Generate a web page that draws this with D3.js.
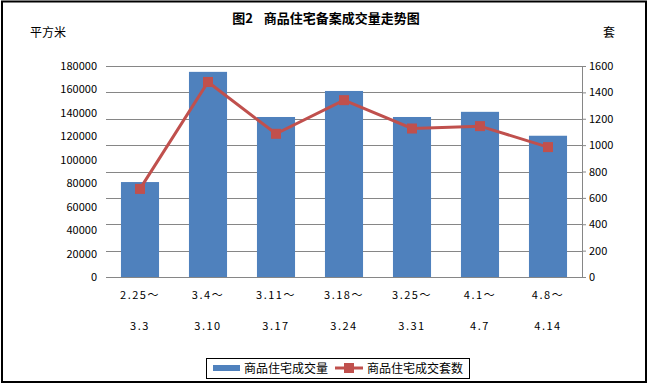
<!DOCTYPE html>
<html>
<head>
<meta charset="utf-8">
<script src="https://cdn.jsdelivr.net/npm/d3@7"></script>
<style>
  body { margin: 0; background: #fff; }
  svg text { font-family: "Noto Sans CJK SC", "DejaVu Sans", sans-serif; }
</style>
</head>
<body>
<div id="vis"></div>
<script>
const FRAME_WIDTH = 650;
const FRAME_HEIGHT = 386;
const MARGINS = {left: 106, right: 68, top: 66, bottom: 109};

const VIS_WIDTH = FRAME_WIDTH - MARGINS.left - MARGINS.right;
const VIS_HEIGHT = FRAME_HEIGHT - MARGINS.top - MARGINS.bottom;

// data
const categories = ["2.25～|3.3", "3.4～|3.10", "3.11～|3.17", "3.18～|3.24",
                    "3.25～|3.31", "4.1～|4.7", "4.8～|4.14"];
const areaValues = [81000, 175000, 136500, 158700, 136500, 140900, 120500];
const unitValues = [668, 1479, 1086, 1341, 1126, 1144, 985];
const leftTicks = [0, 20000, 40000, 60000, 80000, 100000, 120000, 140000, 160000, 180000];
const rightTicks = [0, 200, 400, 600, 800, 1000, 1200, 1400, 1600];

const BAR_COLOR = "#4F81BD";
const LINE_COLOR = "#C0504D";

const svg = d3.select("#vis")
  .append("svg")
    .attr("width", FRAME_WIDTH)
    .attr("height", FRAME_HEIGHT);

// outer border
svg.append("rect")
  .attr("x", 2).attr("y", 1.5)
  .attr("width", 644).attr("height", 380.5)
  .attr("fill", "#fff")
  .attr("stroke", "#000")
  .attr("stroke-width", 2);

const X_SCALE = d3.scaleBand()
  .domain(categories)
  .range([0, VIS_WIDTH])
  .paddingInner(0.44)
  .paddingOuter(0.22);

const Y_LEFT = d3.scaleLinear().domain([0, 180000]).range([VIS_HEIGHT, 0]);
const Y_RIGHT = d3.scaleLinear().domain([0, 1600]).range([VIS_HEIGHT, 0]);

const g = svg.append("g")
  .attr("transform", "translate(" + MARGINS.left + "," + MARGINS.top + ")");

// gridlines
g.append("g")
  .selectAll("line")
  .data(rightTicks)
  .enter()
  .append("line")
    .attr("x1", 0).attr("x2", VIS_WIDTH)
    .attr("y1", (d) => Math.round(Y_RIGHT(d)) + 0.5)
    .attr("y2", (d) => Math.round(Y_RIGHT(d)) + 0.5)
    .attr("stroke", "#868686")
    .attr("stroke-width", 1);

// left axis labels (no axis line)
const leftAxis = g.append("g")
  .call(d3.axisLeft(Y_LEFT).tickValues(leftTicks).tickSize(0).tickPadding(9).tickFormat(d3.format("d")));
leftAxis.select(".domain").remove();
leftAxis.selectAll("text")
  .attr("font-size", "11px")
  .attr("fill", "#000")
  .attr("font-family", "'Liberation Sans', sans-serif");

// right axis
const rightAxis = g.append("g")
  .attr("transform", "translate(" + VIS_WIDTH + ",0)")
  .call(d3.axisRight(Y_RIGHT).tickValues(rightTicks).tickSize(4).tickSizeOuter(0).tickPadding(3).tickFormat(d3.format("d")));
rightAxis.select(".domain").attr("stroke", "#868686");
rightAxis.selectAll(".tick line").attr("stroke", "#868686");
rightAxis.selectAll("text")
  .attr("font-size", "11px")
  .attr("fill", "#000")
  .attr("font-family", "'Liberation Sans', sans-serif");

// bars
g.selectAll(".bar")
  .data(areaValues)
  .enter()
  .append("rect")
    .attr("class", "bar")
    .attr("x", (d, i) => X_SCALE(categories[i]))
    .attr("y", (d) => Y_LEFT(d))
    .attr("width", X_SCALE.bandwidth())
    .attr("height", (d) => VIS_HEIGHT - Y_LEFT(d))
    .attr("fill", BAR_COLOR);

// line
const line = d3.line()
  .x((d, i) => X_SCALE(categories[i]) + X_SCALE.bandwidth() / 2)
  .y((d) => Y_RIGHT(d));

g.append("path")
  .datum(unitValues)
  .attr("d", line)
  .attr("fill", "none")
  .attr("stroke", LINE_COLOR)
  .attr("stroke-width", 3);

g.selectAll(".marker")
  .data(unitValues)
  .enter()
  .append("rect")
    .attr("class", "marker")
    .attr("x", (d, i) => X_SCALE(categories[i]) + X_SCALE.bandwidth() / 2 - 5)
    .attr("y", (d) => Y_RIGHT(d) - 5)
    .attr("width", 10)
    .attr("height", 10)
    .attr("fill", LINE_COLOR);

// x labels, two rows
const xLabels = g.append("g")
  .selectAll("text")
  .data(categories)
  .enter()
  .append("text")
    .attr("x", (d) => X_SCALE(d) + X_SCALE.bandwidth() / 2)
    .attr("text-anchor", "middle")
    .attr("font-size", "11px")
    .attr("letter-spacing", "1.5px")
    .attr("fill", "#000");
xLabels.append("tspan")
  .attr("x", (d) => X_SCALE(d) + X_SCALE.bandwidth() / 2)
  .attr("y", VIS_HEIGHT + 22)
  .text((d) => d.split("|")[0]);
xLabels.append("tspan")
  .attr("x", (d) => X_SCALE(d) + X_SCALE.bandwidth() / 2)
  .attr("y", VIS_HEIGHT + 53)
  .text((d) => d.split("|")[1]);

// title and axis units
const title = svg.append("text")
  .attr("x", 326).attr("y", 23)
  .attr("text-anchor", "middle")
  .attr("font-size", "13px")
  .attr("font-weight", "bold");
title.append("tspan").text("图2");
title.append("tspan").attr("dx", 11).text("商品住宅备案成交量走势图");

svg.append("text")
  .attr("x", 30).attr("y", 37)
  .attr("font-size", "12px")
  .text("平方米");

svg.append("text")
  .attr("x", 603).attr("y", 37)
  .attr("font-size", "12px")
  .text("套");

// legend
const legend = svg.append("g");
legend.append("rect")
  .attr("x", 206.5).attr("y", 358.5)
  .attr("width", 263).attr("height", 20)
  .attr("fill", "#fff")
  .attr("stroke", "#000")
  .attr("stroke-width", 1);
legend.append("rect")
  .attr("x", 213).attr("y", 365)
  .attr("width", 27).attr("height", 6)
  .attr("fill", BAR_COLOR);
legend.append("text")
  .attr("x", 244).attr("y", 373)
  .attr("font-size", "12px")
  .text("商品住宅成交量");
legend.append("line")
  .attr("x1", 335).attr("x2", 363)
  .attr("y1", 368).attr("y2", 368)
  .attr("stroke", LINE_COLOR)
  .attr("stroke-width", 3);
legend.append("rect")
  .attr("x", 344).attr("y", 363)
  .attr("width", 10).attr("height", 10)
  .attr("fill", LINE_COLOR);
legend.append("text")
  .attr("x", 367).attr("y", 373)
  .attr("font-size", "12px")
  .text("商品住宅成交套数");
</script>
</body>
</html>
